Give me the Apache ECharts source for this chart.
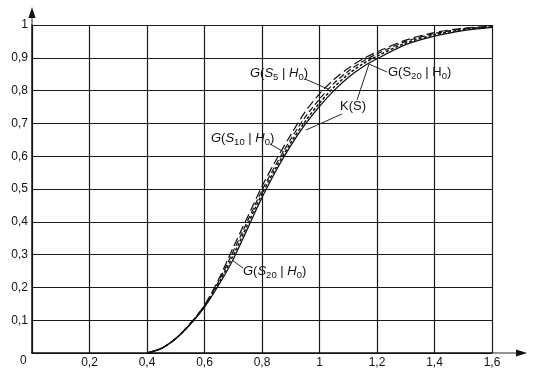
<!DOCTYPE html>
<html>
<head>
<meta charset="utf-8">
<script src="https://cdn.jsdelivr.net/npm/echarts@6/dist/echarts.min.js"></script>
<style>
  html, body { margin: 0; padding: 0; background: #fff; }
  #chart { width: 538px; height: 377px; }
</style>
</head>
<body>
<div id="chart"></div>
<script>
// S values along the x axis
const sValues = [0.40, 0.45, 0.50, 0.55, 0.60, 0.65, 0.70, 0.75, 0.80, 0.85, 0.90, 0.95, 1.00, 1.05, 1.10, 1.15, 1.20, 1.30, 1.40, 1.50, 1.60];

const gS5  = [0.000, 0.014, 0.044, 0.090, 0.146, 0.226, 0.322, 0.415, 0.508, 0.590, 0.665, 0.735, 0.790, 0.834, 0.868, 0.896, 0.918, 0.954, 0.977, 0.990, 0.996];
const gS10 = [0.000, 0.014, 0.044, 0.089, 0.144, 0.220, 0.310, 0.403, 0.496, 0.577, 0.652, 0.719, 0.774, 0.822, 0.859, 0.889, 0.912, 0.950, 0.974, 0.988, 0.995];
const gS20 = [0.000, 0.014, 0.044, 0.088, 0.142, 0.214, 0.298, 0.392, 0.485, 0.567, 0.641, 0.706, 0.762, 0.810, 0.850, 0.881, 0.905, 0.945, 0.970, 0.986, 0.994];
const kS   = [0.000, 0.014, 0.044, 0.087, 0.140, 0.208, 0.286, 0.380, 0.474, 0.558, 0.632, 0.697, 0.752, 0.800, 0.840, 0.872, 0.897, 0.940, 0.966, 0.983, 0.993];

const xTicks = [0, 0.2, 0.4, 0.6, 0.8, 1, 1.2, 1.4, 1.6];
const yTicks = [0, 0.1, 0.2, 0.3, 0.4, 0.5, 0.6, 0.7, 0.8, 0.9, 1];

const ink = '#111';
const fontFamily = 'Liberation Sans, Arial, sans-serif';

function comma(v) {
  return String(+v.toFixed(1)).replace('.', ',');
}

function pairs(ys) {
  return sValues.map((s, i) => [s, ys[i]]);
}

function curve(name, ys, type, width) {
  return {
    name: name,
    type: 'line',
    data: pairs(ys),
    smooth: 0.3,
    showSymbol: false,
    lineStyle: { color: ink, width: width, type: type },
    silent: true
  };
}

// label with italic letters and subscripts
const richStyle = {
  i: { fontStyle: 'italic', fontSize: 13, fontFamily: fontFamily, lineHeight: 15 },
  n: { fontSize: 13, fontFamily: fontFamily, lineHeight: 15 },
  sub: { fontSize: 9.5, fontFamily: fontFamily, lineHeight: 9, padding: [7, 0, 0, 0] }
};

function label(x, y, text) {
  return {
    type: 'text',
    left: x,
    top: y,
    style: { text: text, rich: richStyle, fill: ink }
  };
}

function leader(x1, y1, x2, y2) {
  return {
    type: 'line',
    shape: { x1: x1, y1: y1, x2: x2, y2: y2 },
    style: { stroke: ink, lineWidth: 0.9 }
  };
}

const chart = echarts.init(document.getElementById('chart'));

chart.setOption({
  animation: false,
  backgroundColor: '#fff',
  grid: { left: 32, right: 46, top: 25, bottom: 24 },
  xAxis: {
    type: 'value',
    min: xTicks[0],
    max: xTicks[xTicks.length - 1],
    interval: 0.2,
    axisLine: { lineStyle: { color: ink, width: 1.5 } },
    axisTick: { show: false },
    axisLabel: {
      color: ink, fontSize: 12, fontFamily: fontFamily, margin: 4,
      showMinLabel: false,
      formatter: comma
    },
    splitLine: { show: true, lineStyle: { color: '#1a1a1a', width: 1.2 } }
  },
  yAxis: {
    type: 'value',
    min: yTicks[0],
    max: yTicks[yTicks.length - 1],
    interval: 0.1,
    axisLine: { show: true, lineStyle: { color: ink, width: 1.5 } },
    axisTick: { show: false },
    axisLabel: {
      color: ink, fontSize: 12, fontFamily: fontFamily, margin: 4,
      showMinLabel: false,
      formatter: comma
    },
    splitLine: { show: true, lineStyle: { color: '#1a1a1a', width: 1.2 } }
  },
  series: [
    curve('G(S5|H0)', gS5, [9, 4], 1.2),
    curve('G(S10|H0)', gS10, [6, 3], 1.2),
    curve('G(S20|H0)', gS20, [3, 2], 1.5),
    curve('K(S)', kS, 'solid', 1.3)
  ],
  graphic: [
    // axis arrows
    leader(492, 353, 520, 353),
    { type: 'polygon', shape: { points: [[527, 353], [516, 349.5], [516, 356.5]] }, style: { fill: ink } },
    leader(32, 25, 32, 14),
    { type: 'polygon', shape: { points: [[32, 7], [28.5, 18], [35.5, 18]] }, style: { fill: ink } },
    { type: 'text', left: 20, top: 355, style: { text: '0', fill: ink, fontSize: 12, fontFamily: fontFamily } },

    label(250, 65, '{i|G}{n|(}{i|S}{sub|5}{n| | }{i|H}{sub|0}{n|)}'),
    leader(305, 79, 328, 89),
    label(388, 64, '{n|G(S}{sub|20}{n| | H}{sub|0}{n|)}'),
    leader(387, 72, 369, 64),
    label(340, 100, '{n|K(S)}'),
    leader(342, 114, 306, 130),
    leader(357, 100, 369, 64),
    label(211, 130, '{i|G}{n|(}{i|S}{sub|10}{n| | }{i|H}{sub|0}{n|)}'),
    leader(270, 144, 284, 152),
    label(243, 263, '{i|G}{n|(}{i|S}{sub|20}{n| | }{i|H}{sub|0}{n|)}'),
    leader(243, 268, 232, 260)
  ]
});
</script>
</body>
</html>
